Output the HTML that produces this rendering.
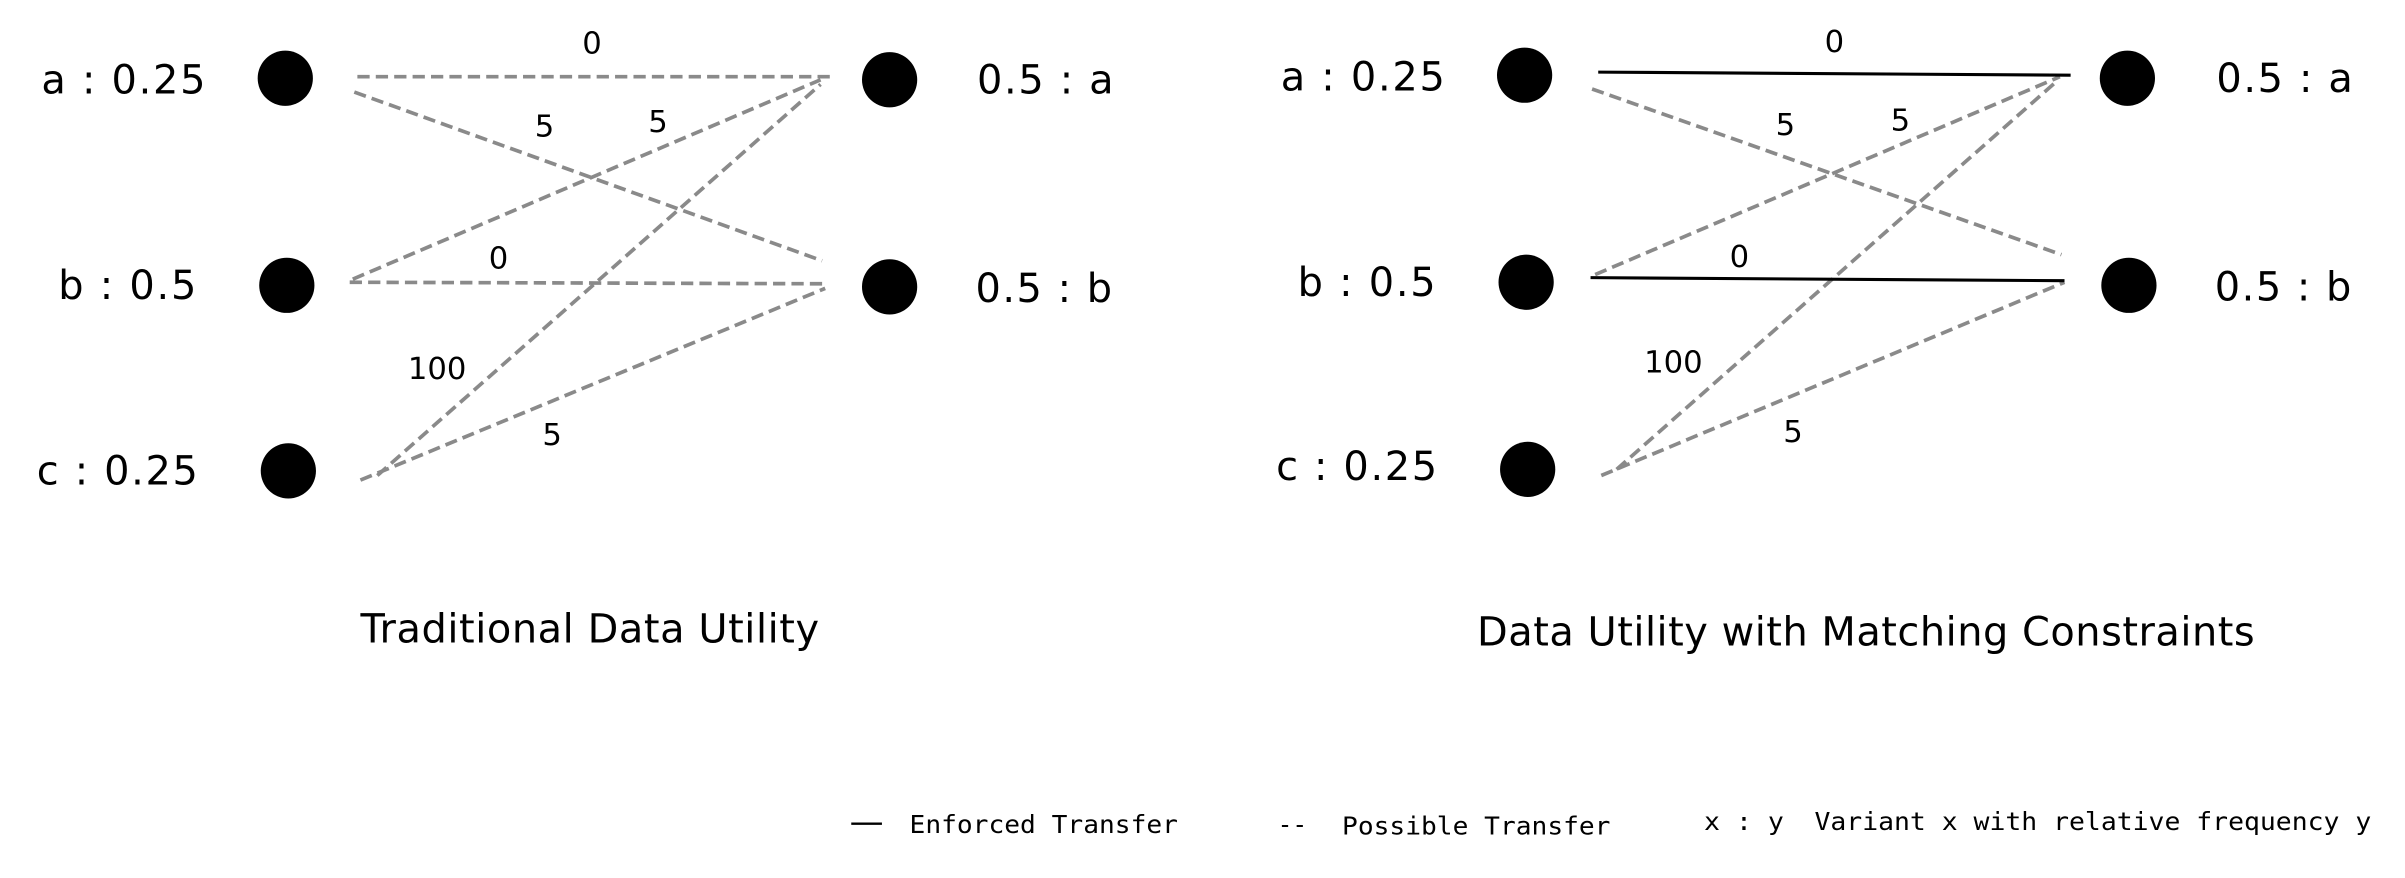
<!DOCTYPE html>
<html><head><meta charset="utf-8"><style>html,body{margin:0;padding:0;background:#fff}svg{display:block}</style></head>
<body>
<svg width="2405" height="878" viewBox="0 0 1568 572.4" xmlns="http://www.w3.org/2000/svg" font-family="DejaVu Sans, Liberation Sans, sans-serif">
<rect width="1568" height="572.4" fill="#fff"/>
<g fill="#000">
<circle cx="186" cy="51" r="18"/><circle cx="187" cy="186" r="18"/><circle cx="188" cy="307" r="18"/>
<circle cx="580" cy="52" r="18"/><circle cx="580" cy="187" r="18"/>
<circle cx="994" cy="49" r="18"/><circle cx="995" cy="184" r="18"/><circle cx="996" cy="306" r="18"/>
<circle cx="1387" cy="51" r="18"/><circle cx="1388" cy="186" r="18"/>
</g>
<g stroke="#8a8a8a" stroke-width="2.4" stroke-dasharray="8,4" fill="none">
<line x1="233" y1="50" x2="541" y2="50"/>
<line x1="231" y1="60" x2="536" y2="170"/>
<line x1="230" y1="182" x2="535" y2="52"/>
<line x1="228" y1="184" x2="538" y2="185"/>
<line x1="246" y1="310" x2="535" y2="55"/>
<line x1="235" y1="313" x2="538" y2="188"/>
<line x1="1038" y1="58" x2="1344" y2="166"/>
<line x1="1040" y1="179" x2="1343" y2="50"/>
<line x1="1054" y1="306" x2="1342" y2="52"/>
<line x1="1044" y1="310" x2="1346" y2="184"/>
</g>
<g stroke="#000" stroke-width="2" fill="none">
<line x1="1042" y1="47" x2="1350" y2="49"/>
<line x1="1037" y1="181" x2="1346" y2="183"/>
</g>
<g font-size="26" fill="#000" lengthAdjust="spacingAndGlyphs">
<text x="27" y="61" textLength="107">a : 0.25</text>
<text x="38" y="195" textLength="90">b : 0.5</text>
<text x="24" y="316" textLength="105">c : 0.25</text>
<text x="637" y="61" textLength="89">0.5 : a</text>
<text x="636" y="197" textLength="89">0.5 : b</text>
<text x="835" y="59" textLength="107">a : 0.25</text>
<text x="846" y="193" textLength="90">b : 0.5</text>
<text x="832" y="313" textLength="105">c : 0.25</text>
<text x="1445" y="60" textLength="89">0.5 : a</text>
<text x="1444" y="196" textLength="89">0.5 : b</text>
<text x="235" y="419" textLength="299">Traditional Data Utility</text>
<text x="963" y="421" textLength="507">Data Utility with Matching Constraints</text>
</g>
<g font-size="20" fill="#000" text-anchor="middle">
<text x="386" y="35">0</text><text x="355" y="89">5</text><text x="429" y="86">5</text>
<text x="325" y="175">0</text><text x="285" y="247">100</text><text x="360" y="290">5</text>
<text x="1196" y="34">0</text><text x="1164" y="88">5</text><text x="1239" y="85">5</text>
<text x="1134" y="174">0</text><text x="1091" y="243">100</text><text x="1169" y="288">5</text>
</g>
<g font-family="DejaVu Sans Mono, Liberation Mono, monospace" font-size="16" fill="#000">
<line x1="555" y1="537" x2="575" y2="537" stroke="#000" stroke-width="1.5"/>
<text x="593" y="543" textLength="175" lengthAdjust="spacingAndGlyphs">Enforced Transfer</text>
<text x="833" y="543">--</text>
<text x="875" y="544" textLength="175" lengthAdjust="spacingAndGlyphs">Possible Transfer</text>
<text x="1111" y="541" textLength="52" lengthAdjust="spacingAndGlyphs">x : y</text>
<text x="1183" y="541" textLength="363" lengthAdjust="spacingAndGlyphs">Variant x with relative frequency y</text>
</g>
</svg>
</body></html>
